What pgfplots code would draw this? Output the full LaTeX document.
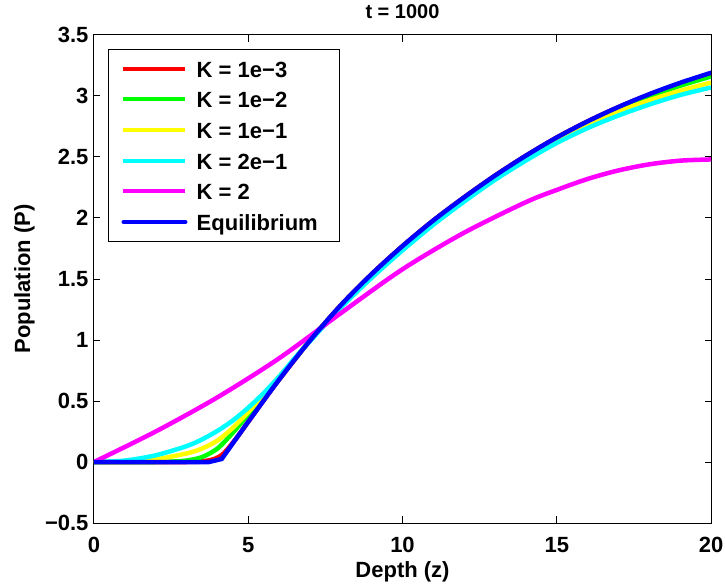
\documentclass[border=0pt]{standalone}
\usepackage{pgfplots}
\pgfplotsset{compat=1.18}
\usepackage{fontspec}
\setmainfont{Liberation Sans}
\usetikzlibrary{calc}
\definecolor{mred}{rgb}{1,0,0}
\definecolor{mgreen}{rgb}{0,1,0}
\definecolor{myellow}{rgb}{1,1,0}
\definecolor{mcyan}{rgb}{0,1,1}
\definecolor{mmagenta}{rgb}{1,0,1}
\definecolor{mblue}{rgb}{0,0,1}
\newcommand{\fs}{\fontsize{22bp}{26bp}\selectfont\bfseries}
\begin{document}
\begin{tikzpicture}
\begin{axis}[name=ax,
  scale only axis, width=617bp, height=488bp,
  xmin=0, xmax=20, ymin=-0.5, ymax=3.5,
  xtick={0,5,10,15,20},
  ytick={-0.5,0,0.5,1,1.5,2,2.5,3,3.5},
  yticklabels={−0.5,0,0.5,1,1.5,2,2.5,3,3.5},
  tick align=inside, major tick length=6.5bp,
  every tick/.style={black, line width=1bp},
  axis line style={line width=1bp},
  ticklabel style={font=\fs},
  /pgf/number format/assume math mode=true,
  xticklabel style={anchor=base, yshift=-29bp},
  yticklabel style={xshift=-2bp},
  title={t = 1000},
  every axis title shift=0pt,
  title style={font=\fontsize{20bp}{24bp}\selectfont\bfseries, at={(axis description cs:0.5,1.0328)}, anchor=base},
  xlabel={Depth (z)},
  xlabel style={font=\fs, at={(axis description cs:0.5,-0.1107)}, anchor=base},
  ylabel={Population (P)},
  ylabel style={font=\fs, at={(axis description cs:-0.1037,0.5)}, anchor=base, rotate=0},
  legend cell align=left,
  legend style={at={(axis description cs:0,1)}, anchor=north west, xshift=13.7bp, yshift=-14bp,
    draw=black, line width=1bp, inner xsep=13.3bp, inner ysep=5bp, row sep=2.26bp, font=\fs,
    nodes={inner xsep=8.7bp, inner ysep=0pt, text height=22.7bp, text depth=5.7bp}},
  legend image code/.code={\draw[#1, line width=4bp] (0bp,0bp) -- (62bp,0bp); \path (62.3bp,0bp);},
  every axis plot/.append style={line width=4.5bp},
]
\addplot[mred, smooth, tension=0.5] coordinates {
(0,0) (3,0) (3.5,0.005) (3.9,0.025) (4.2,0.07) (4.6,0.19) (5,0.33) (5.5,0.505) (6,0.675) (7,0.995) (8,1.285) (9,1.54) (10,1.77) (11,1.98) (12,2.17) (13,2.348) (14,2.511) (15,2.66) (16,2.792) (17,2.909) (18,3.011) (19,3.101) (20,3.18)};
\addlegendentry{K = 1e−3}
\addplot[mgreen, smooth, tension=0.5] coordinates {
(0,0) (2,0) (2.5,0.003) (3,0.012) (3.5,0.04) (4,0.11) (4.5,0.24) (5,0.39) (5.5,0.54) (6,0.69) (7,0.995) (8,1.28) (9,1.535) (10,1.765) (11,1.975) (12,2.165) (13,2.343) (14,2.506) (15,2.655) (16,2.784) (17,2.898) (18,2.997) (19,3.084) (20,3.16)};
\addlegendentry{K = 1e−2}
\addplot[myellow, smooth, tension=0.5] coordinates {
(0,0) (1,0.003) (2,0.022) (3,0.07) (3.5,0.11) (4,0.175) (4.5,0.28) (5,0.41) (5.5,0.55) (6,0.70) (6.5,0.845) (7,0.995) (8,1.275) (9,1.525) (10,1.755) (11,1.965) (12,2.155) (13,2.333) (14,2.496) (15,2.64) (16,2.767) (17,2.875) (18,2.965) (19,3.043) (20,3.11)};
\addlegendentry{K = 1e−1}
\addplot[mcyan, smooth, tension=0.5] coordinates {
(0,0) (1,0.012) (2,0.055) (3,0.13) (3.5,0.185) (4,0.255) (4.5,0.34) (5,0.445) (5.5,0.565) (6,0.70) (6.5,0.85) (7,0.99) (8,1.265) (9,1.51) (10,1.735) (11,1.945) (12,2.135) (13,2.313) (14,2.471) (15,2.615) (16,2.737) (17,2.84) (18,2.93) (19,3.008) (20,3.07)};
\addlegendentry{K = 2e−1}
\addplot[mmagenta, smooth, tension=0.5] coordinates {
(0,0) (2,0.25) (4,0.53) (6,0.85) (8,1.22) (10,1.58) (12,1.88) (14,2.13) (15,2.23) (16,2.32) (17,2.39) (18,2.44) (19,2.47) (20,2.48)};
\addlegendentry{K = 2}
\addplot[mblue, line cap=round, line join=round, forget plot] coordinates {
(0,0) (3.73,0) (4.14,0.025)};
\addplot[mblue, smooth, tension=0.5, line cap=round] coordinates {
(4.14,0.025) (5,0.33) (6,0.675) (7,0.995) (8,1.285) (9,1.54) (10,1.77) (11,1.98) (12,2.17) (13,2.348) (14,2.511) (15,2.66) (16,2.792) (17,2.91) (18,3.015) (19,3.108) (20,3.19)};
\addlegendentry{Equilibrium}
\end{axis}
\pgfresetboundingbox
\path[use as bounding box] ($(ax.south west)+(-94bp,-63bp)$) rectangle ($(ax.north east)+(14bp,35bp)$);
\end{tikzpicture}
\end{document}
